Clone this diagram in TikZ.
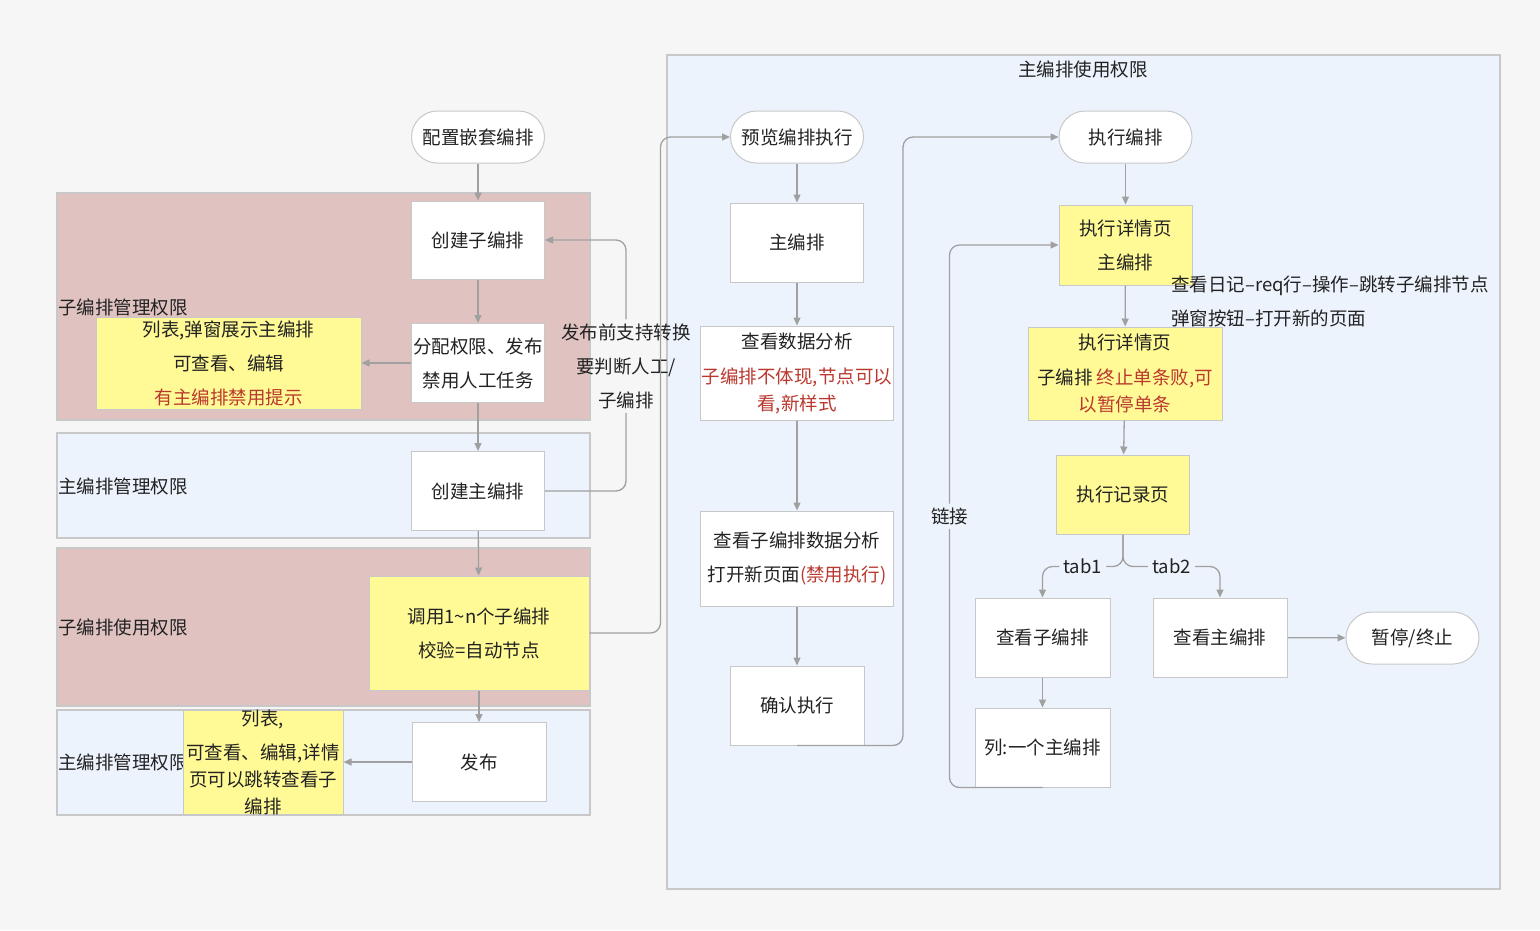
\documentclass[tikz,border=0pt]{standalone}
\usepackage{fontspec}
\setmainfont{Noto Sans CJK SC}
\usetikzlibrary{arrows.meta}
\definecolor{bg}{RGB}{246,246,246}
\definecolor{lblue}{RGB}{237,243,253}
\definecolor{lpink}{RGB}{224,195,192}
\definecolor{yel}{RGB}{255,250,150}
\definecolor{bd}{RGB}{200,200,200}
\definecolor{ln}{RGB}{160,160,160}
\definecolor{txt}{RGB}{34,34,34}
\definecolor{rd}{RGB}{186,56,46}
\begin{document}
\begin{tikzpicture}[x=1pt,y=-1pt,
  every node/.style={text=txt, font=\fontsize{18.5}{34}\selectfont, inner sep=0pt},
  wh/.style 2 args={minimum width=#1, minimum height=#2},
  lane/.style={draw=bd, line width=1.2pt},
  box/.style={draw=bd, fill=white, line width=1pt, align=center},
  ybox/.style={draw=bd, fill=yel, line width=1pt, align=center},
  term/.style={box, rounded corners=26pt},
  wrapped/.style={font=\fontsize{18.5}{27}\selectfont},
  conn/.style={draw=ln, line width=1.3pt, rounded corners=10pt},
  arr/.style={conn, -{Triangle[length=8pt,width=7pt]}},
  lab/.style={fill=lblue, inner sep=4pt},
]
\fill[bg] (0,0) rectangle (1540,930);
\useasboundingbox (0,0) rectangle (1540,930);

% container
\draw[lane, fill=lblue] (667,55) rectangle (1500,889);
\node (mtitle) at (1083,69) {主编排使用权限};

% lanes
\draw[lane, fill=lpink] (57,193) rectangle (590,420);
\node[anchor=west] (l1) at (58,307) {子编排管理权限};
\draw[lane, fill=lblue] (57,433) rectangle (590,538);
\node[anchor=west] (l2) at (58,486) {主编排管理权限};
\draw[lane, fill=lpink] (57,548) rectangle (590,706);
\node[anchor=west] (l3) at (58,627) {子编排使用权限};
\draw[lane, fill=lblue] (57,710) rectangle (590,815);
\node[anchor=west] (l4) at (58,762) {主编排管理权限};

% left column
\node[term, wh={133pt}{52pt}] (cfg) at (478,137) {配置嵌套编排};
\node[box, wh={133pt}{78pt}] (csub) at (478,240) {创建子编排};
\node[box, wh={133pt}{79pt}] (assign) at (478,363) {分配权限、发布\\禁用人工任务};
\node[ybox, wh={265pt}{92pt}] (list1) at (228.5,363) {列表,弹窗展示主编排\\可查看、编辑\\\textcolor{rd}{有主编排禁用提示}};
\node[box, wh={133pt}{79pt}] (cmain) at (478,491) {创建主编排};
\node[ybox, wh={220pt}{114pt}] (call) at (479,633) {调用1\textasciitilde n个子编排\\校验=自动节点};
\node[box, wh={134pt}{79pt}] (pub) at (479,762) {发布};
\node[ybox, wh={160pt}{104pt}] (list2) at (263,762) {};
\node[wrapped, align=center] (list2t) at (list2.center) {列表,\\[7pt]可查看、编辑,详情\\页可以跳转查看子\\编排};
\node[align=center, inner sep=4pt] (pubnote) at (626,366) {发布前支持转换\\要判断人工/\\子编排};

% middle column
\node[term, wh={133pt}{52pt}] (prev) at (797,137) {预览编排执行};
\node[box, wh={133pt}{79pt}] (mainb) at (797,242.5) {主编排};
\node[box, wrapped, wh={193pt}{94pt}] (ana) at (797,373) {查看数据分析\\[8pt]\textcolor{rd}{子编排不体现,节点可以}\\\textcolor{rd}{看,新样式}};
\node[box, wh={193pt}{95pt}] (subana) at (797,558.5) {查看子编排数据分析\\打开新页面\textcolor{rd}{(禁用执行)}};
\node[box, wh={134pt}{79pt}] (confirm) at (797,705.5) {确认执行};

% right column
\node[term, wh={133pt}{52pt}] (exec) at (1125.5,137) {执行编排};
\node[ybox, wh={133pt}{80pt}] (det1) at (1125.5,245) {执行详情页\\主编排};
\node[anchor=west, align=left] (note) at (1171,301) {查看日记–req行–操作–跳转子编排节点\\弹窗按钮–打开新的页面};
\node[ybox, wrapped, wh={194pt}{93pt}] (det2) at (1125,373.5) {执行详情页\\[8pt]子编排 \textcolor{rd}{终止单条败,可}\\\textcolor{rd}{以暂停单条}};
\node[ybox, wh={133pt}{79pt}] (rec) at (1123,494.5) {执行记录页};
\node[box, wh={135pt}{79pt}] (vsub) at (1042.5,637.5) {查看子编排};
\node[box, wh={134pt}{79pt}] (vmain) at (1220,637.5) {查看主编排};
\node[term, wh={133pt}{52pt}] (stop) at (1412.5,638) {暂停/终止};
\node[box, wh={135pt}{79pt}] (lie) at (1042.5,747.5) {列:一个主编排};

% connectors left
\draw[arr] (cfg) -- (csub);
\draw[arr] (csub) -- (assign);
\draw[arr] (assign) -- (list1);
\draw[arr] (assign) -- (cmain);
\draw[arr] (cmain) -- (call);
\draw[arr] (call) -- (pub);
\draw[arr] (pub) -- (list2);
\draw[conn] (cmain.east) -| (pubnote.south);
\draw[arr] (pubnote.north) |- (csub.east);
\draw[arr] (call.east) -- ++(71,0) |- (prev.west);

% connectors middle
\draw[arr] (prev) -- (mainb);
\draw[arr] (mainb) -- (ana);
\draw[arr] (ana) -- (subana);
\draw[arr] (subana) -- (confirm);
\draw[arr] (confirm.south) -- ++(106,0) |- (exec.west);

% connectors right
\draw[arr] (exec) -- (det1);
\draw[arr] (det1) -- (det2);
\draw[arr] (det2) -- (rec);
\draw[arr] (rec.south) -- ++(0,32) -| node[lab, pos=0.25] {tab1} (vsub.north);
\draw[arr] (rec.south) -- ++(0,32) -| node[lab, pos=0.25] {tab2} (vmain.north);
\draw[arr] (vmain) -- (stop);
\draw[arr] (vsub) -- (lie);
\draw[arr] (lie.south) -- ++(-93,0) |- node[lab, pos=0.25] {链接} (det1.west);
\end{tikzpicture}
\end{document}
